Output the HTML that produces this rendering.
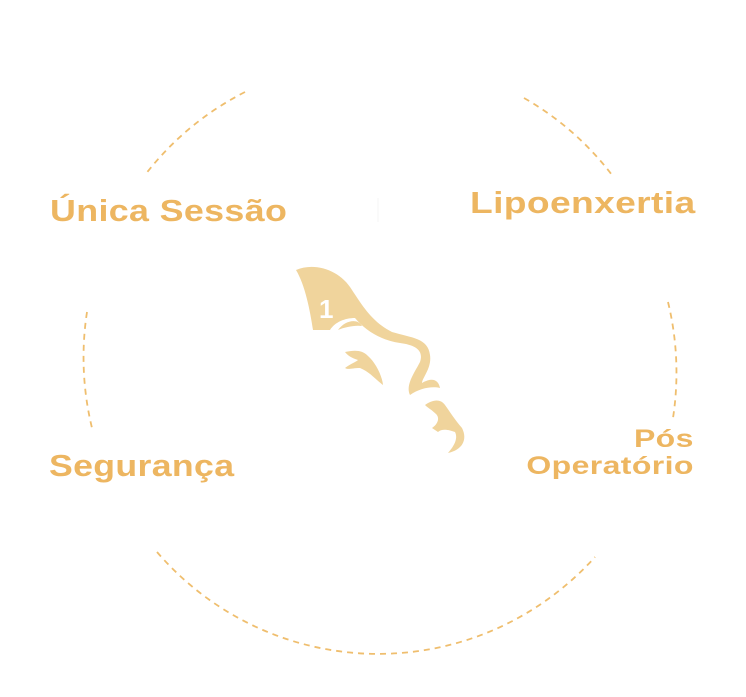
<!DOCTYPE html>
<html><head><meta charset="utf-8"><style>
html,body{margin:0;padding:0;background:#fff;}
body{width:746px;height:697px;position:relative;overflow:hidden;font-family:"Liberation Sans",sans-serif;}
.t{position:absolute;color:#EDB661;font-weight:bold;white-space:nowrap;letter-spacing:0.3px;transform-origin:left top;}
</style></head><body>
<svg width="746" height="697" style="position:absolute;left:0;top:0">
<g fill="none" stroke="#EFBE6E" stroke-width="1.8" stroke-dasharray="6,5">
<path d="M245,92 A293,296 0 0 0 145,175"/>
<path d="M524,98 A293,296 0 0 1 612,175"/>
<path d="M668,302 A293,296 0 0 1 673,418"/>
<path d="M87,312 A293,296 0 0 0 93,432"/>
<path d="M157,552 A293,296 0 0 0 595,557"/>
</g>
<line x1="378" y1="198" x2="378" y2="222" stroke="#f4f4f4" stroke-width="1"/>
<g fill="#F0D49C">
<path d="M296,270 C315,262 340,270 352,290 C362,305 372,322 392,332 C412,338 428,338 430,355 C432,368 422,378 422,383 C430,378 438,378 440,388 C432,386 420,388 410,395 C405,385 415,372 420,362 C424,350 415,345 400,343 C380,340 365,330 355,318 C345,318 335,322 330,330 L313,330 C310,310 305,285 296,270 Z"/>
<path d="M338,330 C345,320 358,318 362,326 C355,325 345,327 338,330 Z"/>
<path d="M345,352 C355,350 362,350 368,356 C375,362 382,375 383,385 C376,380 370,372 360,368 C352,368 348,370 345,368 C350,364 356,362 358,360 C352,358 348,356 345,352 Z"/>
<path d="M425,405 C432,400 440,398 445,405 C450,412 455,420 462,428 C468,440 462,450 448,453 C455,445 458,438 455,432 C450,430 442,428 438,432 L432,428 C438,424 440,418 436,414 C432,410 428,408 425,405 Z"/>
</g>
<text x="319" y="318" fill="#fff" font-family="Liberation Sans" font-weight="bold" font-size="26">1</text>
</svg>
<div class="t" style="left:50px;top:193px;font-size:31px;transform:scaleX(1.156);">Única Sessão</div>
<div class="t" style="left:470px;top:185px;font-size:31px;transform:scaleX(1.2);">Lipoenxertia</div>
<div class="t" style="left:49px;top:448px;font-size:31px;transform:scaleX(1.15);">Segurança</div>
<div class="t" style="right:52px;top:426px;font-size:25px;text-align:right;line-height:27px;transform-origin:right top;transform:scaleX(1.28);">Pós<br>Operatório</div>
</body></html>
